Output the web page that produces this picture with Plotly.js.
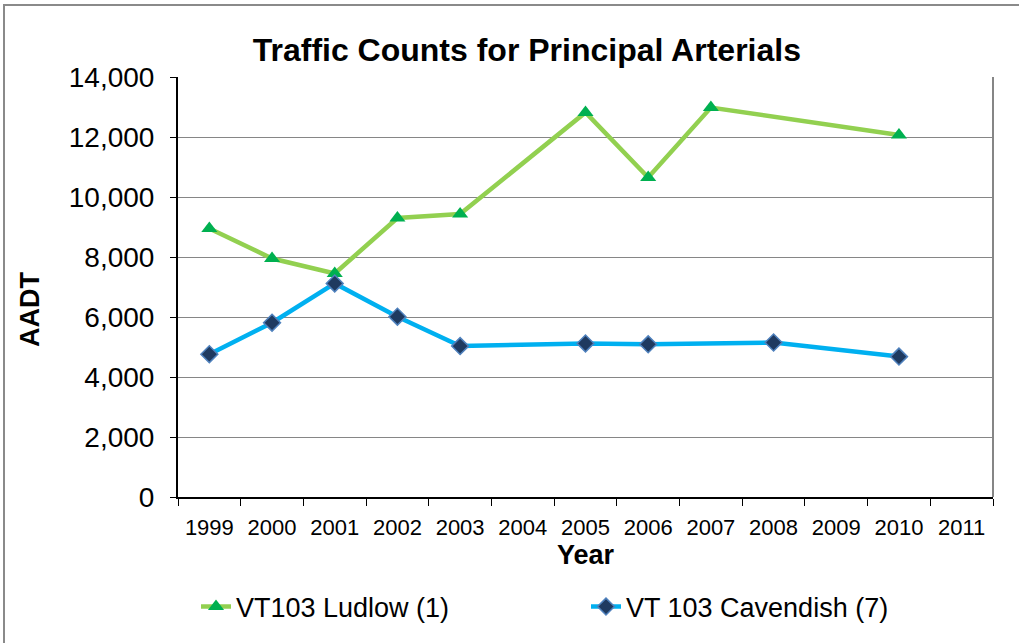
<!DOCTYPE html>
<html>
<head>
<meta charset="utf-8">
<script src="https://cdn.plot.ly/plotly-3.0.1.min.js"></script>
<style>
  html, body { margin: 0; padding: 0; background: #fff; }
  #chart { width: 1019px; height: 643px; }
  #frame { position: absolute; left: 3px; top: 4px; width: 1030px; height: 660px;
           border-left: 2px solid #8a8a8a; border-top: 2px solid #8a8a8a; pointer-events: none; }
</style>
</head>
<body>
<div id="chart"></div>
<div id="frame"></div>
<script>
const years = ['1999','2000','2001','2002','2003','2004','2005','2006','2007','2008','2009','2010','2011'];
const ludlow = [8950, 7950, 7450, 9300, 9430, null, 12820, 10650, 12980, null, null, 12070, null];
const cavendish = [4760, 5810, 7120, 6010, 5030, null, 5120, 5090, null, 5150, null, 4680, null];
const yTicks = [0, 2000, 4000, 6000, 8000, 10000, 12000, 14000];
const yTickText = ['0', '2,000', '4,000', '6,000', '8,000', '10,000', '12,000', '14,000'];

const font = 'Liberation Sans, Arial, sans-serif';
const W = 1019, H = 643, ML = 178, MR = 26, MT = 77, MB = 146;
const PW = W - ML - MR, PH = H - MT - MB;

const traces = [
  {
    x: years, y: ludlow, name: 'VT103 Ludlow (1)', type: 'scatter', mode: 'lines+markers',
    connectgaps: true,
    line: { color: '#92D050', width: 4.5 },
    marker: { symbol: 'triangle-up', size: 14, color: '#00B050', line: { width: 0 } }
  },
  {
    x: years, y: cavendish, name: 'VT 103 Cavendish (7)', type: 'scatter', mode: 'lines+markers',
    connectgaps: true,
    line: { color: '#00B0F0', width: 4.5 },
    marker: { symbol: 'diamond', size: 13, color: '#1F3A60', line: { color: '#4F81BD', width: 1.5 } }
  }
];

const layout = {
  width: W, height: H,
  margin: { l: ML, r: MR, t: MT, b: MB },
  paper_bgcolor: '#fff', plot_bgcolor: '#fff',
  font: { family: font, color: '#000' },
  showlegend: true,
  title: {
    text: '<b>Traffic Counts for Principal Arterials</b>',
    font: { family: font, size: 32, color: '#000' },
    xref: 'container', yref: 'container', x: 0.517, y: 1 - 50/H,
    xanchor: 'center', yanchor: 'middle'
  },
  xaxis: {
    type: 'category', categoryorder: 'array', categoryarray: years,
    range: [-0.5, 12.5],
    tickson: 'boundaries', ticks: 'outside', ticklen: 7, tickcolor: '#000', tickwidth: 1,
    ticklabelstandoff: 10,
    showgrid: false, showline: true, linecolor: '#000', linewidth: 2,
    tickfont: { family: font, size: 22, color: '#000' },
    title: { text: '<b>Year</b>', font: { family: font, size: 27, color: '#000' }, standoff: 2 },
    zeroline: false, fixedrange: true
  },
  yaxis: {
    range: [0, 14000], tickmode: 'array', tickvals: yTicks, ticktext: yTickText,
    ticks: 'outside', ticklen: 6, tickcolor: '#000', tickwidth: 1,
    ticklabelstandoff: 10,
    showgrid: true, gridcolor: '#868686', gridwidth: 1,
    showline: true, linecolor: '#000', linewidth: 2,
    tickfont: { family: font, size: 28, color: '#000' },
    zeroline: false, fixedrange: true
  },
  annotations: [
    { text: '<b>AADT</b>', xref: 'paper', yref: 'paper',
      x: (30 - ML) / PW, y: (H - MB - 310) / PH,
      xanchor: 'center', yanchor: 'middle', textangle: -90, showarrow: false,
      font: { family: font, size: 27, color: '#000' } }
  ],
  legend: {
    orientation: 'h', x: 18 / PW, xanchor: 'left', xref: 'paper',
    y: 1 - 607/H, yref: 'container', yanchor: 'middle',
    font: { family: font, size: 27, color: '#000' },
    entrywidth: 345, entrywidthmode: 'pixels',
    bgcolor: 'rgba(0,0,0,0)'
  },
  shapes: [
    { type: 'line', xref: 'paper', yref: 'paper', x0: 1, x1: 1, y0: 0, y1: 1,
      line: { color: '#868686', width: 2 } }
  ]
};

Plotly.newPlot('chart', traces, layout, { staticPlot: true, displayModeBar: false });
</script>
</body>
</html>
